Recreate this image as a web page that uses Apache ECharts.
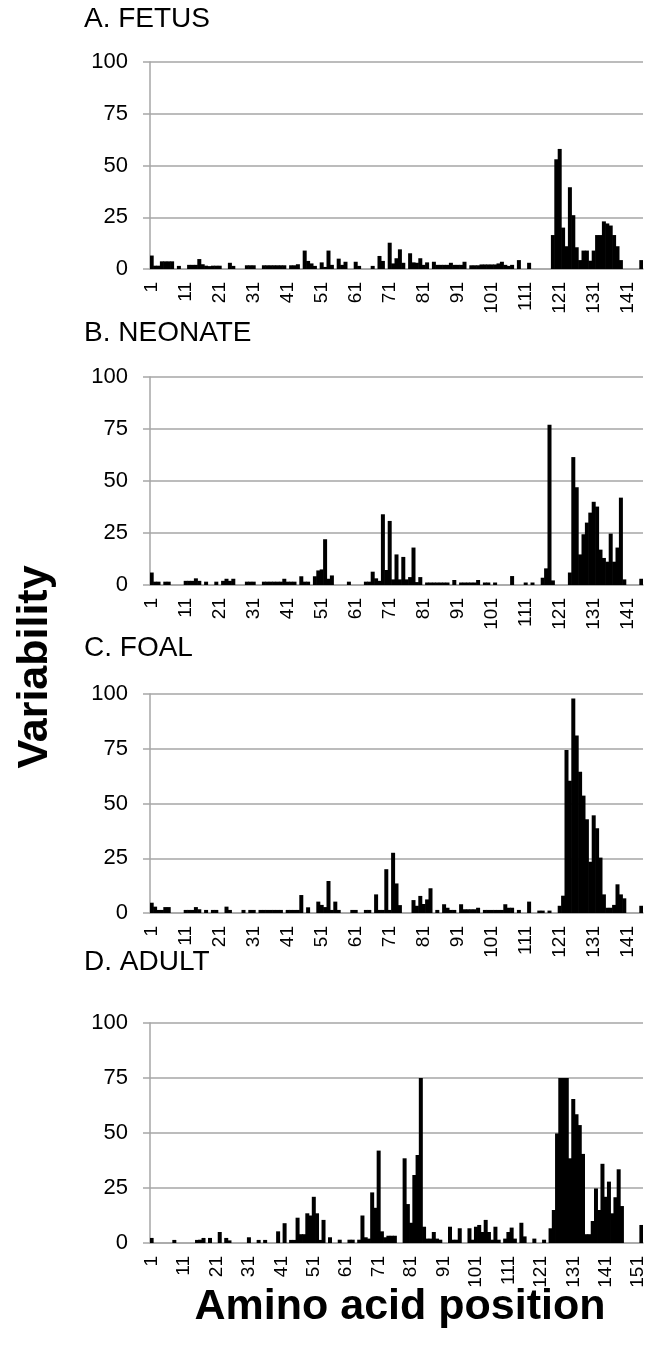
<!DOCTYPE html>
<html><head><meta charset="utf-8">
<script src="https://cdn.jsdelivr.net/npm/echarts@6/dist/echarts.min.js"></script>
<style>html,body{margin:0;padding:0;background:#fff}#c{width:652px;height:1357px}</style>
</head><body><div id="c"></div>
<script>
// Variability per amino acid position
const fetus = [
 6.5,1.6,1.6,3.7,3.7,3.7,3.7,0,1.5,0,
 0,2,2,2,4.8,2.3,1.6,1.4,1.6,1.6,
 1.6,0,0,3,1.5,0,0,0,1.8,1.8,
 1.8,0,0,1.8,1.8,1.8,1.8,1.8,1.8,1.8,
 0,1.8,1.8,2.3,0,8.9,3.9,2.7,1.5,0,
 3.2,1,8.9,2,0,5,2,3.5,0,0,
 3.5,1.5,0,0,0,1.5,0,6.3,3.9,0,
 12.7,2.7,5.2,9.5,3,0,7.6,3.2,3,5.2,
 2,3.2,0,3.5,2,2,2,2,3,2,
 2,2,3.5,0,1.8,1.8,1.8,2.2,2.2,2.2,
 2.2,2.2,2.7,3.5,2,1.5,2,0,4.3,0,
 0,3,0,0,0,0,0,0,16.4,53,
 58,20,11,39.5,26,10.5,4.3,8.9,8.9,4,
 8.9,16.4,16.4,23,22,21,16.4,11,4.3,0,
 0,0,0,0,4.3
];
const neonate = [
 6,1.6,1.6,0,1.6,1.6,0,0,0,0,
 2,2,2,3.2,2,0,1.6,0,0,1.6,
 0,2,3,2,3,0,0,0,1.6,1.6,
 1.6,0,0,1.6,1.6,1.6,1.6,1.6,1.6,3,
 1.6,1.6,1.6,0,4.2,1.6,1.6,0,4.2,7,
 7.5,22,3,4.6,0,0,0,0,1.6,0,
 0,0,0,1.6,1.6,6.4,3.2,2,34,7.2,
 30.8,2.7,14.7,2.7,13.5,2.7,3.8,18,1.4,3.8,
 0,1.2,1.2,1.2,1.2,1.2,1.2,1.2,0,2.4,
 0,1.2,1.2,1.2,1.2,1.2,2.4,0,1.2,1.2,
 0,1.2,0,0,0,0,4.3,0,0,0,
 1.2,0,1.2,0,0,3.5,8,77,2.2,0,
 0,0,0,6,61.5,47,14.7,24.4,30,34.8,
 40,37.7,17,13,11.2,24.7,11.2,18,42,2.7,
 0,0,0,0,3
];
const foal = [
 4.7,2.9,1.4,1.4,2.7,2.7,0,0,0,0,
 1.4,1.4,1.4,2.7,1.7,0,1.4,0,1.4,1.4,
 0,0,2.9,1.4,0,0,0,1.4,0,1.4,
 1.4,0,1.4,1.4,1.4,1.4,1.4,1.4,1.4,0,
 1.4,1.4,1.4,1.4,8.2,0,2.6,0,0,5.2,
 3.7,2.7,14.6,1.4,5.2,1.4,0,0,0,1.4,
 1.4,0,0,1.4,1.4,0,8.5,1.4,1.4,20,
 1.4,27.5,13.5,3.6,0,0,0,5.9,3.3,7.8,
 4.1,6.2,11.3,0,1.4,0,4,2.4,1.4,1.4,
 0,4,1.7,1.7,1.7,1.7,2.4,0,1.4,1.4,
 1.4,1.4,1.4,1.4,4,2.4,2.4,0,1.4,0,
 0,5.2,0,0,1.1,1.1,0,1.1,0,0,
 3.3,7.9,74.4,60.4,98,81,64.5,53.6,42.8,23.4,
 44.6,38.7,25.3,8.5,2.4,2.4,3.7,13.1,8.5,6.7,
 0,0,0,0,3.3
];
const adult = [
 2.3,0,0,0,0,0,0,1.4,0,0,
 0,0,0,0,1.4,1.5,2.3,0,2.3,0,
 0,5,0,2.3,1.2,0,0,0,0,0,
 2.6,0,0,1.4,0,1.4,0,0,0,5.3,
 0,9,0,1.4,1.4,11.5,4,4,13.5,12.5,
 21,13.5,1.4,10.5,0,2.6,0,0,1.5,0,
 0,1.5,1.5,0,1.5,12.5,2.6,2,23,16,
 42,5.3,2.6,3.3,3.3,3.3,0,0,38.5,17.7,
 9.2,30.9,40,75,7.4,2,2,5,2,1.5,
 0,0,7.4,1.5,1.5,6.7,0,0,6.7,1.5,
 7.4,8.2,5,10.5,5,1.5,7.4,1.5,0,2,
 5,7,2,0,9.2,3,0,0,2,0,
 0,1.5,0,6.7,15,49.8,75,75,75,38.5,
 65.5,58.5,53.6,40.5,4,4,10,24.8,15,36,
 21,27.9,13.5,20.8,33.5,16.8,0,0,0,0,
 0,8.2
];
const panelTitles = ['A. FETUS', 'B. NEONATE', 'C. FOAL', 'D. ADULT'];
const yMin = 0, yMax = 100, yStep = 25;
const labelEvery = 10;
const yTitle = 'Variability';
const xTitle = 'Amino acid position';
const positions145 = Array.from({length: fetus.length}, (_, i) => String(i + 1));
const positions152 = Array.from({length: adult.length}, (_, i) => String(i + 1));

const FONT = '"Liberation Sans", Arial, Helvetica, sans-serif';
const GRAY = '#a6a6a6';
const layout = [
  {data: fetus,   cats: positions145, top: 62,   h: 207, ty: 19},
  {data: neonate, cats: positions145, top: 377,  h: 208, ty: 333},
  {data: foal,    cats: positions145, top: 694,  h: 219, ty: 648},
  {data: adult,   cats: positions152, top: 1023, h: 220, ty: 962}
];

const grid = [], xAxis = [], yAxis = [], series = [], graphic = [];
layout.forEach((p, k) => {
  grid.push({left: 150, right: 9, top: p.top, height: p.h, containLabel: false, outerBoundsMode: 'none'});
  xAxis.push({
    type: 'category', gridIndex: k, data: p.cats,
    axisLine: {show: true, lineStyle: {color: GRAY, width: 1.5}},
    axisTick: {show: false},
    axisLabel: {interval: (idx) => idx % labelEvery === 0, rotate: 90, fontSize: 19,
                fontFamily: FONT, color: '#000', margin: 13, hideOverlap: false},
    splitLine: {show: false}
  });
  yAxis.push({
    type: 'value', gridIndex: k, min: yMin, max: yMax, interval: yStep,
    axisLine: {show: true, lineStyle: {color: GRAY, width: 1.5}},
    axisTick: {show: true, length: 7, lineStyle: {color: GRAY, width: 1.5}},
    axisLabel: {fontSize: 22, fontFamily: FONT, color: '#000', margin: 22},
    splitLine: {show: true, lineStyle: {color: GRAY, width: 1.5}}
  });
  series.push({
    type: 'bar', xAxisIndex: k, yAxisIndex: k, data: p.data,
    barWidth: 4, itemStyle: {color: '#000'},
    silent: true, animation: false
  });
  graphic.push({type: 'text', x: 84, y: p.ty,
    style: {text: panelTitles[k], font: '28px ' + FONT, fill: '#000', verticalAlign: 'middle'}});
});
graphic.push({type: 'text', x: 35, y: 667, rotation: Math.PI / 2,
  style: {text: yTitle, font: 'bold 43px ' + FONT, fill: '#000', align: 'center', verticalAlign: 'middle'}});
graphic.push({type: 'text', x: 400, y: 1307,
  style: {text: xTitle, font: 'bold 43px ' + FONT, fill: '#000', align: 'center', verticalAlign: 'middle'}});

const chart = echarts.init(document.getElementById('c'), null, {renderer: 'canvas'});
chart.setOption({animation: false, grid, xAxis, yAxis, series, graphic});
</script></body></html>
